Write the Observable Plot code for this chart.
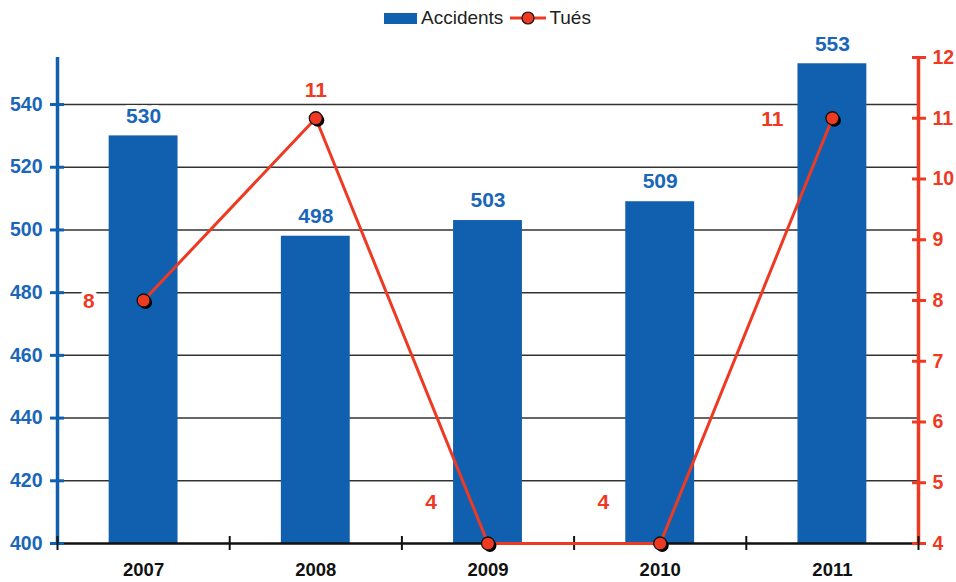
<!DOCTYPE html>
<html>
<head>
<meta charset="utf-8">
<script src="https://cdn.jsdelivr.net/npm/d3@7"></script>
<script src="https://cdn.jsdelivr.net/npm/@observablehq/plot@0.6"></script>
<style>
  html, body { margin: 0; padding: 0; background: #fff; }
  body { width: 956px; height: 582px; overflow: hidden; font-family: "Liberation Sans", Arial, sans-serif; }
  #legend { position: relative; height: 40px; }
  #legend .items { position: absolute; left: 384px; top: 7px; display: flex; align-items: center; font-size: 19px; color: #222; }
  #legend .sw { width: 33px; height: 11px; background: #1160b0; margin-right: 4px; }
  #legend .ln { margin: 0 3px 0 7px; }
  #chart svg { overflow: visible !important; }
</style>
</head>
<body>
<div id="legend">
  <div class="items">
    <div class="sw"></div><span>Accidents</span>
    <svg class="ln" width="36" height="16"><line x1="0" y1="8" x2="36" y2="8" stroke="#ee3a22" stroke-width="3"/><circle cx="18" cy="8" r="6" fill="#ee3a22" stroke="#111" stroke-width="1.2"/></svg><span>Tués</span>
  </div>
</div>
<div id="chart"></div>
<script>
const years = [2007, 2008, 2009, 2010, 2011];
const accidents = [530, 498, 503, 509, 553];
const tues = [8, 11, 4, 4, 11];
const leftTicks = [400, 420, 440, 460, 480, 500, 520, 540];
const gridTicks = [420, 440, 460, 480, 500, 520, 540];
const rightTicks = [4, 5, 6, 7, 8, 9, 10, 11, 12];
const yDomain = [400, 555];
const y2Domain = [4, 12];
const xDomain = [2006.5, 2011.5];
const xBoundaries = [2006.5, 2007.5, 2008.5, 2009.5, 2010.5, 2011.5];

const BLUE = "#1160b0";
const BLUE_TXT = "#1a66b8";
const RED = "#ee3a22";

// map right-axis values into the left scale
const toLeft = v => yDomain[0] + (v - y2Domain[0]) * (yDomain[1] - yDomain[0]) / (y2Domain[1] - y2Domain[0]);
const fromLeft = p => y2Domain[0] + (p - yDomain[0]) * (y2Domain[1] - y2Domain[0]) / (yDomain[1] - yDomain[0]);

const data = years.map((year, i) => ({year, accidents: accidents[i], tues: tues[i], tuesPos: toLeft(tues[i])}));
const halfBar = 0.2;

const chart = Plot.plot({
  width: 956,
  height: 542,
  marginTop: 17,
  marginBottom: 39,
  marginLeft: 57,
  marginRight: 38,
  style: {fontFamily: '"Liberation Sans", Arial, sans-serif', background: "#fff", overflow: "visible"},
  x: {domain: xDomain, label: null},
  y: {domain: yDomain, label: null},
  marks: [
    Plot.ruleY(gridTicks, {stroke: "#333", strokeWidth: 1.5}),
    Plot.rectY(data, {x1: d => d.year - halfBar, x2: d => d.year + halfBar, y1: yDomain[0], y2: "accidents", fill: BLUE}),
    Plot.ruleY([yDomain[0]], {stroke: "#111", strokeWidth: 2.5}),
    Plot.ruleX([xDomain[0]], {stroke: BLUE, strokeWidth: 3.5}),
    Plot.ruleX([xDomain[1]], {stroke: RED, strokeWidth: 3.5}),
    // left axis
    Plot.axisY(leftTicks, {anchor: "left", tickSize: 14, dx: 7, stroke: BLUE, strokeWidth: 3, fill: "none", label: null}),
    Plot.axisY(leftTicks, {anchor: "left", tickSize: 0, tickPadding: 15, fill: BLUE_TXT, fontSize: 19.5, fontWeight: "bold", label: null}),
    // right axis
    Plot.axisY(rightTicks.map(toLeft), {anchor: "right", tickSize: 14, dx: -7, stroke: RED, strokeWidth: 3, fill: "none", label: null}),
    Plot.axisY(rightTicks.map(toLeft), {anchor: "right", tickSize: 0, tickPadding: 14, fill: RED, fontSize: 19.5, fontWeight: "bold", tickFormat: d => String(Math.round(fromLeft(d))), label: null}),
    // bottom axis
    Plot.axisX(xBoundaries, {anchor: "bottom", tickSize: 14, dy: -7, stroke: "#111", strokeWidth: 2, fill: "none", label: null}),
    Plot.axisX(years, {anchor: "bottom", tickSize: 0, tickPadding: 19, fill: "#111", fontSize: 18.5, fontWeight: "bold", tickFormat: d => String(d), label: null}),
    // line + dots
    Plot.line(data, {x: "year", y: "tuesPos", stroke: RED, strokeWidth: 3}),
    Plot.dot(data, {x: "year", y: "tuesPos", r: 6.5, fill: "#000", dx: 2, dy: 2}),
    Plot.dot(data, {x: "year", y: "tuesPos", r: 6.5, fill: RED, stroke: "#111", strokeWidth: 1.3}),
    // bar labels
    Plot.text(data, {x: "year", y: "accidents", text: d => String(d.accidents), dy: -20, fill: BLUE_TXT, fontSize: 21, fontWeight: "bold", stroke: "white", strokeWidth: 8}),
    // tues labels
    Plot.text(data, {filter: d => d.year === 2007 || d.year === 2011, x: "year", y: "tuesPos", text: d => String(d.tues), textAnchor: "end", dx: -49, dy: 1, fill: RED, fontSize: 21, fontWeight: "bold", stroke: "white", strokeWidth: 8}),
    Plot.text(data, {filter: d => d.year === 2008, x: "year", y: "tuesPos", text: d => String(d.tues), dy: -28, fill: RED, fontSize: 21, fontWeight: "bold", stroke: "white", strokeWidth: 8}),
    Plot.text(data, {filter: d => d.year === 2009 || d.year === 2010, x: "year", y: "tuesPos", text: d => String(d.tues), textAnchor: "end", dx: -51, dy: -41, fill: RED, fontSize: 21, fontWeight: "bold", stroke: "white", strokeWidth: 8})
  ]
});
document.getElementById("chart").appendChild(chart);
</script>
</body>
</html>
